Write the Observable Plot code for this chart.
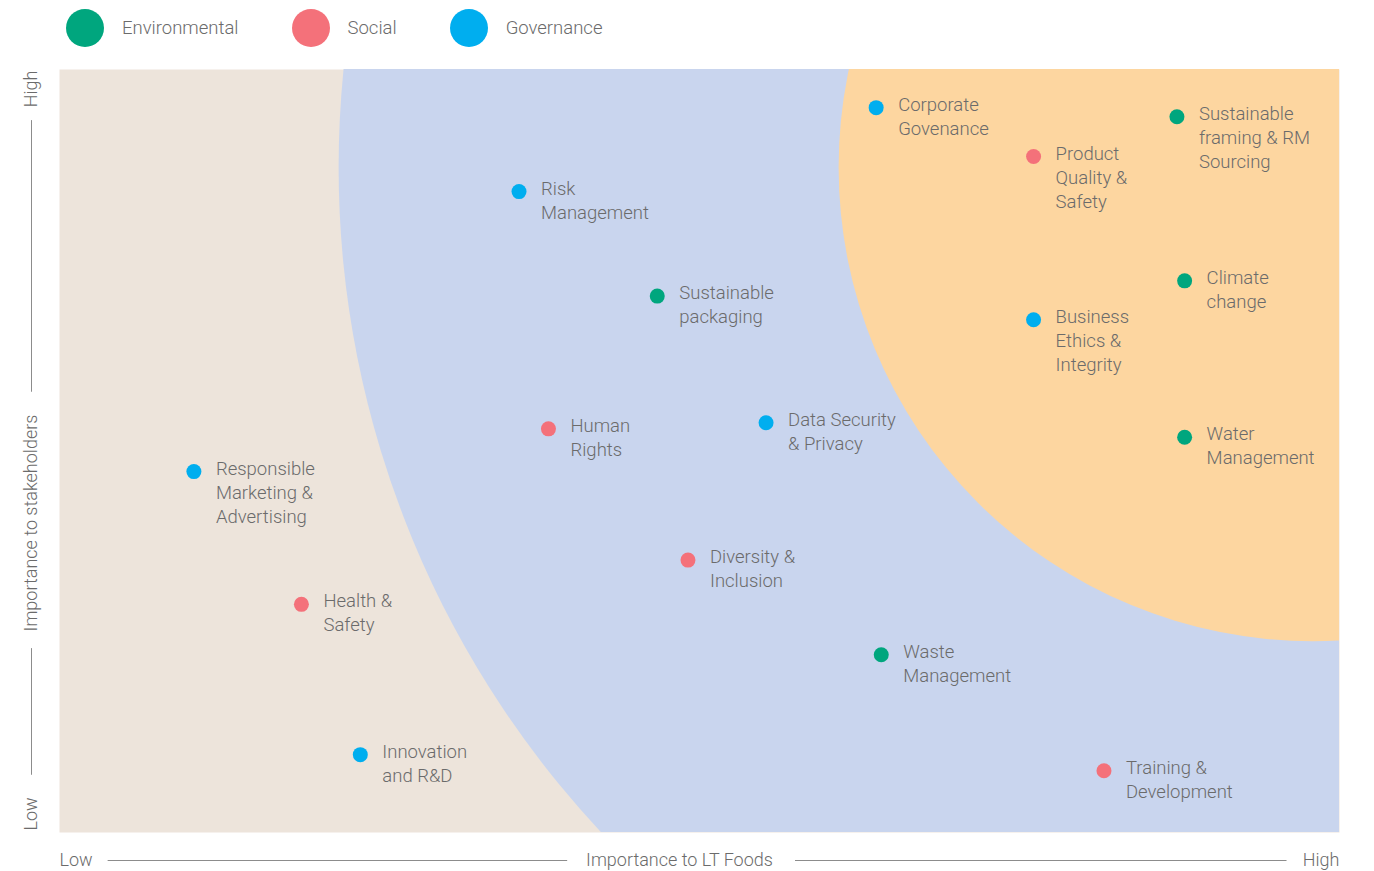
<!DOCTYPE html>
<html>
<head>
<meta charset="utf-8">
<script src="https://cdn.jsdelivr.net/npm/d3@7"></script>
<script src="https://cdn.jsdelivr.net/npm/@observablehq/plot@0.6"></script>
<style>
  html, body { margin: 0; padding: 0; background: #fff; }
  body { width: 1374px; height: 871px; overflow: hidden; font-family: Roboto, "Liberation Sans", sans-serif; }
  #legend { height: 60px; display: flex; align-items: center; padding-left: 66px; box-sizing: border-box; padding-bottom: 4px; }
  .item { display: flex; align-items: center; margin-right: 53px; color: #6b6b6b; font-size: 18.5px; font-weight: 300; }
  .sw { width: 38px; height: 38px; border-radius: 50%; margin-right: 18px; }
  svg { display: block; }
</style>
</head>
<body>
<div id="legend"></div>
<div id="chart"></div>
<script>
// ---- data ----
const categories = ["Environmental", "Social", "Governance"];
const categoryColors = ["#00A67E", "#F4717A", "#00AEEF"];

const topics = [
  "Corporate\nGovenance",
  "Product\nQuality &\nSafety",
  "Sustainable\nframing & RM\nSourcing",
  "Risk\nManagement",
  "Sustainable\npackaging",
  "Climate\nchange",
  "Business\nEthics &\nIntegrity",
  "Human\nRights",
  "Data Security\n& Privacy",
  "Water\nManagement",
  "Responsible\nMarketing &\nAdvertising",
  "Diversity &\nInclusion",
  "Health &\nSafety",
  "Waste\nManagement",
  "Innovation\nand R&D",
  "Training &\nDevelopment"
];
const topicCategory = [
  "Governance", "Social", "Environmental", "Governance", "Environmental", "Environmental",
  "Governance", "Social", "Governance", "Environmental", "Governance", "Social",
  "Social", "Environmental", "Governance", "Social"
];
// Importance to LT Foods (0 = low, 10 = high)
const importanceToLTFoods = [6.38, 7.61, 8.73, 3.59, 4.67, 8.79, 7.61, 3.82, 5.52, 8.79, 1.05, 4.91, 1.89, 6.42, 2.35, 8.16];
// Importance to stakeholders (0 = low, 10 = high)
const importanceToStakeholders = [9.50, 8.86, 9.38, 8.40, 7.03, 7.23, 6.72, 5.29, 5.37, 5.18, 4.73, 3.57, 2.99, 2.33, 1.02, 0.81];

// centre of the concentric priority zones
const zoneCenter = [{x: 9.79, y: 8.72}];

// axis annotation texts and the spans of their connecting lines (in importance units)
const xAxisTexts = ["Low", "Importance to LT Foods", "High"];
const yAxisTexts = ["Low", "Importance to stakeholders", "High"];
const xAxisSpans = [{a: 0.38, b: 3.97}, {a: 5.75, b: 9.59}];
const yAxisSpans = [{a: 0.75, b: 2.41}, {a: 5.77, b: 9.33}];

const data = topics.map((t, i) => ({
  topic: t,
  category: topicCategory[i],
  x: importanceToLTFoods[i],
  y: importanceToStakeholders[i]
}));

// ---- legend ----
const legend = document.getElementById("legend");
categories.forEach((c, i) => {
  const item = document.createElement("div");
  item.className = "item";
  const sw = document.createElement("div");
  sw.className = "sw";
  sw.style.background = categoryColors[i];
  const lab = document.createElement("span");
  lab.textContent = c;
  item.appendChild(sw);
  item.appendChild(lab);
  legend.appendChild(item);
});

// ---- chart ----
const textColor = "#6b6b6b";
const axisColor = "#8c8c8c";
const font = "Roboto, 'Liberation Sans', sans-serif";
const axisText = {fontSize: 18, fontWeight: 300, fill: textColor, lineAnchor: "middle"};

const chart = Plot.plot({
  width: 1374,
  height: 811,
  marginTop: 9,
  marginLeft: 59,
  marginRight: 35,
  marginBottom: 39,
  x: {domain: [0, 10], axis: null},
  y: {domain: [0, 10], axis: null},
  color: {domain: categories, range: categoryColors},
  style: {fontFamily: font, background: "white", overflow: "visible"},
  marks: [
    Plot.frame({fill: "#EDE4DB", stroke: "none"}),
    Plot.dot(zoneCenter, {x: "x", y: "y", r: 974, fill: "#C9D5EE", clip: true}),
    Plot.dot(zoneCenter, {x: "x", y: "y", r: 474, fill: "#FDD6A0", clip: true}),
    Plot.dot(data, {x: "x", y: "y", r: 7.5, fill: "category"}),
    Plot.text(data, {
      x: "x", y: "y", text: "topic",
      dx: 22, dy: -14,
      textAnchor: "start", lineAnchor: "top",
      fontSize: 18.5, lineHeight: 1.3, fontWeight: 300,
      fill: textColor
    }),
    // x axis annotation
    Plot.ruleY(xAxisSpans, {y: 0, x1: "a", x2: "b", dy: 28, stroke: axisColor, strokeWidth: 1}),
    Plot.text([xAxisTexts[0]], {...axisText, frameAnchor: "bottom-left", textAnchor: "start", dy: 28}),
    Plot.text([xAxisTexts[1]], {...axisText, frameAnchor: "bottom", textAnchor: "middle", dx: -20, dy: 28}),
    Plot.text([xAxisTexts[2]], {...axisText, frameAnchor: "bottom-right", textAnchor: "end", dy: 28}),
    // y axis annotation
    Plot.ruleX(yAxisSpans, {x: 0, y1: "a", y2: "b", dx: -28, stroke: axisColor, strokeWidth: 1}),
    Plot.text([yAxisTexts[0]], {...axisText, frameAnchor: "bottom-left", rotate: -90, textAnchor: "start", dx: -28, dy: -2}),
    Plot.text([yAxisTexts[1]], {...axisText, frameAnchor: "left", rotate: -90, textAnchor: "middle", dx: -28, dy: 72}),
    Plot.text([yAxisTexts[2]], {...axisText, frameAnchor: "top-left", rotate: -90, textAnchor: "end", dx: -28, dy: 1})
  ]
});
document.getElementById("chart").appendChild(chart);
</script>
</body>
</html>
